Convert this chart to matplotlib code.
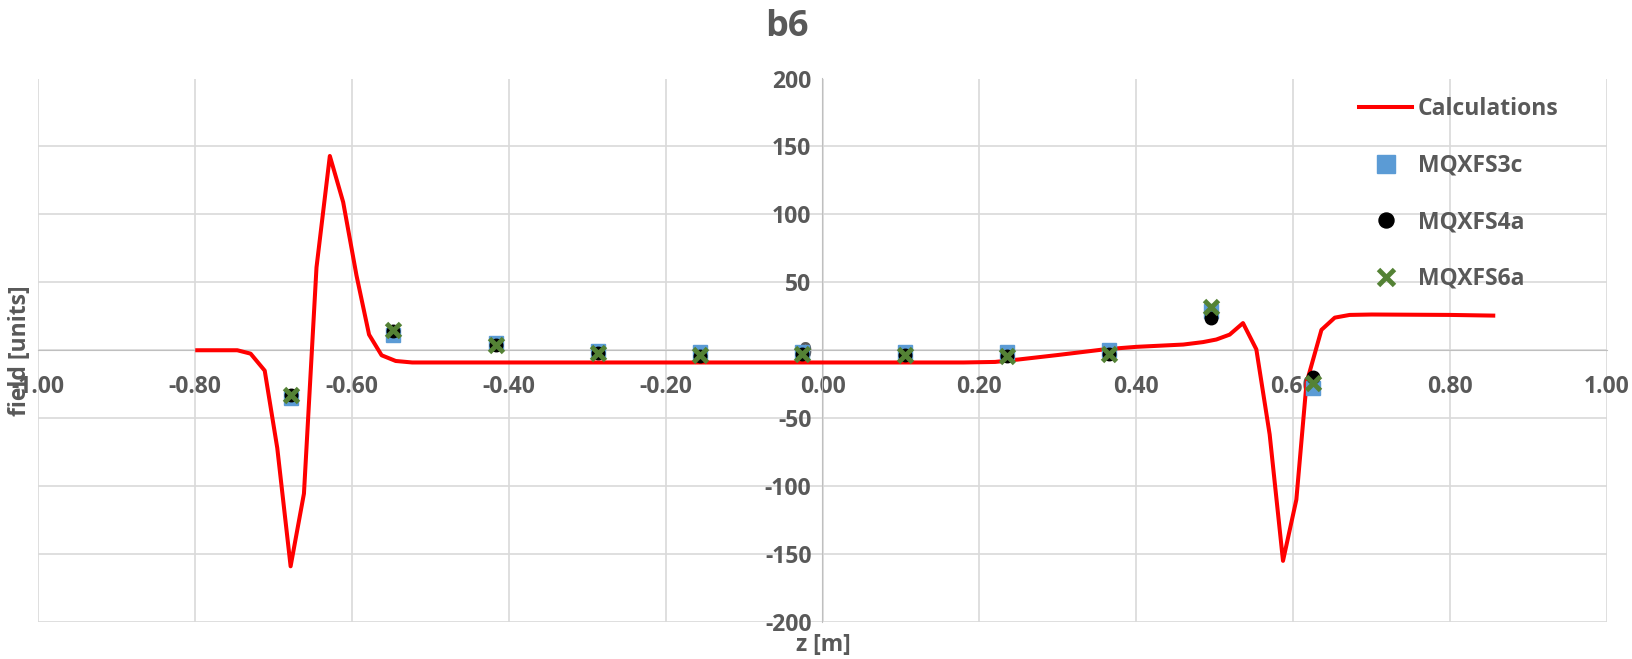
import matplotlib
matplotlib.use("Agg")
import matplotlib.pyplot as plt
from matplotlib.ticker import MultipleLocator, FormatStrFormatter

# calculated b6 along z (vertices of the red curve)
z_calc = [-0.797, -0.746, -0.729, -0.711, -0.695, -0.678, -0.661, -0.645,
          -0.628, -0.611, -0.594, -0.578, -0.562, -0.544, -0.523, -0.50,
          0.18, 0.22, 0.25, 0.30, 0.36, 0.40, 0.46, 0.485, 0.502, 0.519,
          0.536, 0.553, 0.570, 0.587, 0.604, 0.617, 0.636, 0.653, 0.672,
          0.70, 0.80, 0.855]
b6_calc = [0, 0, -2.5, -15, -72, -159, -105.5, 61,
           143, 109, 55, 11.5, -3.7, -7.9, -9, -9,
           -9, -8.6, -6.8, -3.5, 0.7, 2.5, 4.2, 6, 7.9, 11.5,
           20, 0.7, -62, -155, -110, -24, 15, 24, 26,
           26.3, 26, 25.5]

# measured b6 at probe positions
z_meas = [-0.678, -0.547, -0.416, -0.286, -0.156, -0.026, 0.105, 0.235,
          0.365, 0.495, 0.625]
b6_s3c = [-35, 11, 5, -0.5, -1.5, -1, -1, -1.5, 0.5, 29, -28]
b6_s4a = [-33, 14, 3.5, -2, -4, -3, -3.5, -4.5, -3, 24, -20]
b6_s6a = [-33, 15, 4, -1.7, -3.7, -3, -3.2, -4.2, -2.5, 31.5, -24]

TXT = "#595959"
GRID = "#d9d9d9"
AXLN = "#bfbfbf"
FS = 16.5

plt.rcParams["font.family"] = ["Open Sans", "DejaVu Sans"]
plt.rcParams["font.weight"] = "bold"
plt.rcParams["axes.unicode_minus"] = False

fig = plt.figure(figsize=(16.33, 6.59), dpi=100)
ax = fig.add_axes([38 / 1633, 1 - 622 / 659, 1569 / 1633, 543.5 / 659])

ax.plot(z_calc, b6_calc, color="#ff0000", lw=2.9, zorder=3, label="Calculations")
ax.plot(z_meas, b6_s3c, ls="none", marker="s", ms=10.5, color="#5b9bd5",
        zorder=4, label="MQXFS3c")
ax.plot(z_meas, b6_s4a, ls="none", marker="o", ms=9, color="#000000",
        zorder=5, label="MQXFS4a")
ax.plot(z_meas, b6_s6a, ls="none", marker="x", ms=10, mew=3.5,
        color="#548235", zorder=6, label="MQXFS6a")

ax.set_xlim(-1, 1)
ax.set_ylim(-200, 200)
ax.xaxis.set_major_locator(MultipleLocator(0.2))
ax.yaxis.set_major_locator(MultipleLocator(50))
ax.xaxis.set_major_formatter(FormatStrFormatter("%.2f"))
ax.grid(True, color=GRID, lw=1.2, zorder=0)
ax.set_axisbelow(True)

for s in ["top", "right"]:
    ax.spines[s].set_visible(False)
ax.spines["left"].set_position(("data", 0))
ax.spines["bottom"].set_position(("data", 0))
ax.spines["left"].set_color(AXLN)
ax.spines["bottom"].set_color(AXLN)
ax.tick_params(length=0, labelsize=FS, labelcolor=TXT)
ax.tick_params(axis="x", pad=18)
ax.tick_params(axis="y", pad=8)
for lab in ax.get_xticklabels() + ax.get_yticklabels():
    lab.set_fontweight("bold")

fig.text(787 / 1633, 1 - 27 / 659, "b6", ha="center", va="center",
         fontsize=26, color=TXT, fontweight="bold")
fig.text(823 / 1633, 1 - 645 / 659, "z [m]", ha="center", va="center",
         fontsize=FS, color=TXT, fontweight="bold")
fig.text(20 / 1633, 1 - 351 / 659, "field [units]", ha="center", va="center",
         rotation=90, fontsize=FS, color=TXT, fontweight="bold")

leg = ax.legend(loc="upper left", bbox_to_anchor=(1350 / 1633, 1 - 88 / 659),
                bbox_transform=fig.transFigure, frameon=False,
                handlelength=2.3, handletextpad=0.25, labelspacing=1.42,
                borderaxespad=0, markerscale=1.2,
                prop={"weight": "bold", "size": FS})
for t in leg.get_texts():
    t.set_color(TXT)

fig.savefig("out.png", dpi=100)
